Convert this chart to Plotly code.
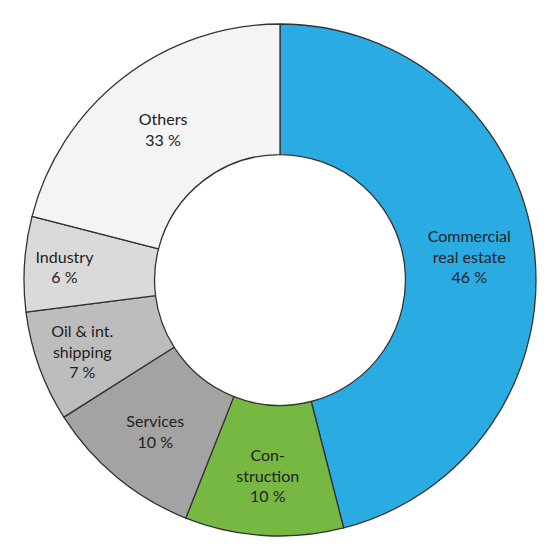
import plotly.graph_objects as go

categories = ["Commercial<br>real estate", "Con-<br>struction", "Services", "Oil & int.<br>shipping", "Industry", "Others"]
values = [46, 10, 10, 7, 6, 21]
pct_labels = ["46 %", "10 %", "10 %", "7 %", "6 %", "33 %"]
colors = ["#2aace3", "#77b843", "#a3a3a3", "#bdbdbd", "#dadada", "#f4f4f4"]

texts = [f"{c}<br>{p}" for c, p in zip(categories, pct_labels)]

fig = go.Figure(go.Pie(
    values=values,
    text=texts,
    textinfo="text",
    textposition="inside",
    insidetextorientation="horizontal",
    sort=False,
    direction="clockwise",
    rotation=0,
    hole=0.49,
    marker=dict(colors=colors, line=dict(color="#333333", width=1.3)),
    textfont=dict(family="Lato, Open Sans, sans-serif", size=16, color="#222222"),
    hoverinfo="none",
))
fig.update_layout(
    width=560, height=560,
    margin=dict(l=16, r=32, t=16, b=32),
    showlegend=False,
    paper_bgcolor="white",
    uniformtext=dict(minsize=16, mode="show"),
)
fig.write_html("out.html")
